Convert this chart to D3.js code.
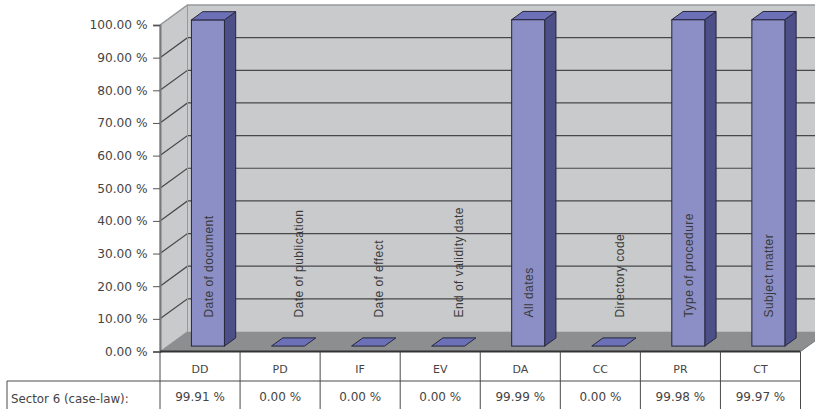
<!DOCTYPE html>
<html>
<head>
<meta charset="utf-8">
<script src="https://cdn.jsdelivr.net/npm/d3@7"></script>
<style>
  html, body { margin: 0; padding: 0; background: #fff; }
  svg { display: block; }
  text { font-family: "DejaVu Sans", sans-serif; fill: #444; }
</style>
</head>
<body>
<script>
// Coverage of metadata fields for one document sector
const codes = ["DD", "PD", "IF", "EV", "DA", "CC", "PR", "CT"];
const fieldNames = ["Date of document", "Date of publication", "Date of effect", "End of validity date", "All dates", "Directory code", "Type of procedure", "Subject matter"];
const coverage = [99.91, 0, 0, 0, 99.99, 0, 99.98, 99.97];
const tickValues = [0, 10, 20, 30, 40, 50, 60, 70, 80, 90, 100];
const seriesName = "Sector 6 (case-law):";

const W = 815, H = 409;
const fmt = v => v.toFixed(2) + " %";

const svg = d3.select("body").append("svg").attr("width", W).attr("height", H);

const x = d3.scaleBand().domain(codes).range([160, 800.5]);
const y = d3.scaleLinear().domain([0, 100]).range([351.5, 25]);

// Oblique projection: depth 0 is the front plane, depth 1 the back wall
const depthX = 27.5, depthY = -20;
const px = (sx, d) => sx + d * depthX;
const py = (sy, d) => sy + d * depthY;
const poly = pts => pts.map(p => p.join(",")).join(" ");

const left = x.range()[0], right = x.range()[1];
const top3d = y(100), base = y(0);

// Walls and floor
svg.append("polygon")
  .attr("points", poly([[px(left,1),py(top3d,1)],[px(right,1),py(top3d,1)],[px(right,1),py(base,1)],[px(left,1),py(base,1)]]))
  .attr("fill", "#c9cacc");
svg.append("polygon")
  .attr("points", poly([[left,top3d],[px(left,1),py(top3d,1)],[px(left,1),py(base,1)],[left,base]]))
  .attr("fill", "#c9cacc").attr("stroke", "#9a9b9d").attr("stroke-width", 1);
svg.append("polygon")
  .attr("points", poly([[left,base],[px(left,1),py(base,1)],[px(right,1),py(base,1)],[right,base]]))
  .attr("fill", "#8d8e90");

// Gridlines run across the side wall and then along the back wall
const grid = svg.append("g").attr("fill", "none");
grid.selectAll("polyline")
  .data(tickValues.slice(1, -1))
  .join("polyline")
  .attr("points", v => poly([[left,y(v)],[px(left,1),py(y(v),1)],[px(right,1),py(y(v),1)]]))
  .attr("stroke", "#48484a").attr("stroke-width", 1.2);

// Upper and left edges of the back wall
svg.append("polyline")
  .attr("points", poly([[left,top3d],[px(left,1),py(top3d,1)],[px(right,1),py(top3d,1)]]))
  .attr("fill", "none").attr("stroke", "#98999b").attr("stroke-width", 1.5);
svg.append("line")
  .attr("x1", px(left,1)).attr("x2", px(left,1))
  .attr("y1", py(top3d,1)).attr("y2", py(base,1))
  .attr("stroke", "#98999b").attr("stroke-width", 1);

// Value axis
const axis = d3.axisLeft(y).tickValues(tickValues).tickFormat(fmt).tickSize(7).tickPadding(5.5);
const axisG = svg.append("g").attr("transform", `translate(${left},0)`).call(axis);
axisG.select(".domain").attr("stroke", "#77787a").attr("stroke-width", 2);
axisG.selectAll(".tick line").attr("stroke", "#555");
axisG.selectAll("text").attr("font-size", 12.2).attr("font-family", '"DejaVu Sans", sans-serif').attr("fill", "#444");

// Bars
const barW = 33, barInset = 24, frontD = 0.27, backD = 0.68;
const rows = codes.map((c, i) => ({ code: c, name: fieldNames[i], value: coverage[i] }));
const bars = svg.append("g").selectAll("g").data(rows).join("g");
const stroke = "#26263c";
const bx = d => x(d.code) + barInset + frontD * depthX;
const by = v => py(y(v), frontD);
const dX = (backD - frontD) * depthX, dY = (backD - frontD) * depthY;

bars.filter(d => d.value > 0).append("polygon")
  .attr("points", d => poly([[bx(d)+barW,by(d.value)],[bx(d)+barW+dX,by(d.value)+dY],[bx(d)+barW+dX,by(0)+dY],[bx(d)+barW,by(0)]]))
  .attr("fill", "#4d5088").attr("stroke", stroke);
bars.filter(d => d.value > 0).append("rect")
  .attr("x", bx).attr("y", d => by(d.value))
  .attr("width", barW).attr("height", d => by(0) - by(d.value))
  .attr("fill", "#8b8fc6").attr("stroke", stroke);
bars.append("polygon")
  .attr("points", d => poly([[bx(d),by(d.value)],[bx(d)+dX,by(d.value)+dY],[bx(d)+barW+dX,by(d.value)+dY],[bx(d)+barW,by(d.value)]]))
  .attr("fill", "#6c70b6").attr("stroke", stroke);

// Field names stand upright over each column
bars.append("text")
  .attr("transform", d => `translate(${bx(d) + barW / 2 + (d.value > 0 ? 1 : dX) + 4},317.5) rotate(-90)`)
  .attr("font-size", 12)
  .style("font-family", '"Liberation Sans", sans-serif')
  .style("letter-spacing", "0.45px")
  .style("fill", "#3a3a3a")
  .text(d => d.name);

// Data table under the plot
const rowMid = 381, tableBottom = H + 2, tableLeft = 7;
const table = svg.append("g").attr("stroke", "#4a4a4c").attr("stroke-width", 1);
table.append("line").attr("x1", left).attr("x2", right).attr("y1", base).attr("y2", base).attr("stroke", "#333").attr("stroke-width", 2);
table.append("line").attr("x1", tableLeft).attr("x2", right).attr("y1", rowMid).attr("y2", rowMid);
table.append("line").attr("x1", tableLeft).attr("x2", tableLeft).attr("y1", rowMid).attr("y2", tableBottom);
table.selectAll(".col")
  .data(codes.map(c => x(c)).concat(right))
  .join("line").attr("class", "col")
  .attr("x1", d => d).attr("x2", d => d)
  .attr("y1", base).attr("y2", tableBottom);

// Right edge of the floor
svg.append("line")
  .attr("x1", right).attr("y1", base).attr("x2", px(right,1)).attr("y2", py(base,1))
  .attr("stroke", "#77787a");

const mid = d => x(d.code) + x.bandwidth() / 2;
svg.append("g").selectAll("text").data(rows).join("text")
  .attr("x", mid).attr("y", 372.5).attr("text-anchor", "middle").attr("font-size", 11)
  .text(d => d.code);
svg.append("g").selectAll("text").data(rows).join("text")
  .attr("x", mid).attr("y", 401).attr("text-anchor", "middle").attr("font-size", 12)
  .text(d => fmt(d.value));
svg.append("text").attr("x", 11).attr("y", 403).attr("font-size", 11.8).text(seriesName);
</script>
</body>
</html>
